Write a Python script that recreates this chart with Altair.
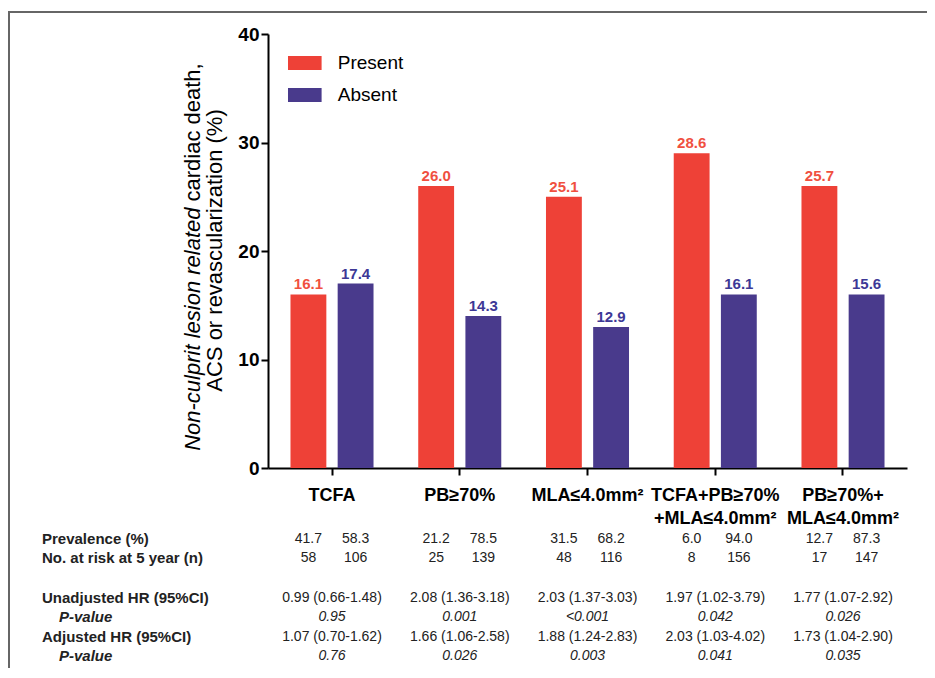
import altair as alt
import pandas as pd

FONT = "Liberation Sans"

categories = ["TCFA", "PB≥70%", "MLA≤4.0mm²", "TCFA+PB≥70%\n+MLA≤4.0mm²", "PB≥70%+\nMLA≤4.0mm²"]
groups = ["Present", "Absent"]

# bar heights as drawn (the printed labels are given separately)
bar_present = [16, 26, 25, 29, 26]
bar_absent = [17, 14, 13, 16, 16]
label_present = ["16.1", "26.0", "25.1", "28.6", "25.7"]
label_absent = ["17.4", "14.3", "12.9", "16.1", "15.6"]

prev_present = ["41.7", "21.2", "31.5", "6.0", "12.7"]
prev_absent = ["58.3", "78.5", "68.2", "94.0", "87.3"]
risk_present = ["58", "25", "48", "8", "17"]
risk_absent = ["106", "139", "116", "156", "147"]

unadj_hr = ["0.99 (0.66-1.48)", "2.08 (1.36-3.18)", "2.03 (1.37-3.03)", "1.97 (1.02-3.79)", "1.77 (1.07-2.92)"]
unadj_p = ["0.95", "0.001", "<0.001", "0.042", "0.026"]
adj_hr = ["1.07 (0.70-1.62)", "1.66 (1.06-2.58)", "1.88 (1.24-2.83)", "2.03 (1.03-4.02)", "1.73 (1.04-2.90)"]
adj_p = ["0.76", "0.026", "0.003", "0.041", "0.035"]

row_labels = ["Prevalence (%)", "No. at risk at 5 year (n)", "Unadjusted HR (95%CI)",
              "P-value", "Adjusted HR (95%CI)", "P-value"]

y_title_italic = "Non-culprit lesion related"
y_title_rest = "cardiac death,"
y_title_line2 = "ACS or revascularization (%)"

RED = "#EE4137"
BLUE = "#493A8C"
RED_TXT = "#F0503F"
BLUE_TXT = "#3D3896"

rows = []
for i, c in enumerate(categories):
    rows.append(dict(cat=c, grp="Present", h=bar_present[i], lab=label_present[i],
                     prev=prev_present[i], risk=risk_present[i]))
    rows.append(dict(cat=c, grp="Absent", h=bar_absent[i], lab=label_absent[i],
                     prev=prev_absent[i], risk=risk_absent[i]))
df = pd.DataFrame(rows)

hr = pd.DataFrame(dict(cat=categories, unadj=unadj_hr, up=unadj_p, adj=adj_hr, ap=adj_p))

W, H = 639, 434

xenc = alt.X("cat:N", sort=categories,
             scale=alt.Scale(paddingInner=0.35, paddingOuter=0.176),
             axis=alt.Axis(title=None, labelExpr="split(datum.label, '\\n')",
                           labelFont=FONT, labelFontSize=18, labelFontWeight="bold",
                           labelColor="black", labelAngle=0, labelBaseline="top",
                           labelLineHeight=23, labelPadding=11, tickSize=7, tickWidth=2,
                           tickColor="black", domainColor="black", domainWidth=2,
                           labelLimit=300))
xoff = alt.XOffset("grp:N", sort=groups, scale=alt.Scale(paddingInner=0.24, paddingOuter=0))
yenc = alt.Y("h:Q", scale=alt.Scale(domain=[0, 40]),
             axis=alt.Axis(title=None, values=[0, 10, 20, 30, 40], grid=False,
                           labelFont=FONT, labelFontSize=19, labelFontWeight="bold",
                           labelColor="black", tickSize=7, tickWidth=2, tickColor="black",
                           domainColor="black", domainWidth=2, labelPadding=2))

base = alt.Chart(df)

bars = base.mark_bar().encode(
    x=xenc, xOffset=xoff, y=yenc,
    color=alt.Color("grp:N", sort=groups,
                    scale=alt.Scale(domain=groups, range=[RED, BLUE]),
                    legend=alt.Legend(title=None, orient="none", legendX=22.8, legendY=15,
                                      symbolType="M-1.2,-0.5H1.2V0.5H-1.2Z", symbolSize=784,
                                      symbolStrokeWidth=0, symbolOpacity=1,
                                      labelFont=FONT, labelFontSize=19, labelColor="black",
                                      labelOffset=19, rowPadding=8, padding=0)),
)

bar_labels = base.mark_text(font=FONT, fontSize=15, fontWeight="bold", baseline="alphabetic",
                            dy=-5).encode(
    x=alt.X("cat:N", sort=categories), xOffset=alt.XOffset("grp:N", sort=groups), y="h:Q",
    text="lab:N",
    color=alt.condition(alt.datum.grp == "Present", alt.value(RED_TXT), alt.value(BLUE_TXT)),
)

ROW_Y = [505, 524, 564, 583, 603, 622]

prev_txt = base.mark_text(font=FONT, fontSize=14, color="#222", baseline="middle").encode(
    x=alt.X("cat:N", sort=categories), xOffset=alt.XOffset("grp:N", sort=groups),
    y=alt.value(ROW_Y[0]), text="prev:N")
risk_txt = base.mark_text(font=FONT, fontSize=14, color="#222", baseline="middle").encode(
    x=alt.X("cat:N", sort=categories), xOffset=alt.XOffset("grp:N", sort=groups),
    y=alt.value(ROW_Y[1]), text="risk:N")

hb = alt.Chart(hr)
unadj_txt = hb.mark_text(font=FONT, fontSize=14, color="#222", baseline="middle").encode(
    x=alt.X("cat:N", sort=categories), y=alt.value(ROW_Y[2]), text="unadj:N")
up_txt = hb.mark_text(font=FONT, fontSize=14, fontStyle="italic", color="#222",
                      baseline="middle").encode(
    x=alt.X("cat:N", sort=categories), y=alt.value(ROW_Y[3]), text="up:N")
adj_txt = hb.mark_text(font=FONT, fontSize=14, color="#222", baseline="middle").encode(
    x=alt.X("cat:N", sort=categories), y=alt.value(ROW_Y[4]), text="adj:N")
ap_txt = hb.mark_text(font=FONT, fontSize=14, fontStyle="italic", color="#222",
                      baseline="middle").encode(
    x=alt.X("cat:N", sort=categories), y=alt.value(ROW_Y[5]), text="ap:N")

row_layers = []
for i, lab in enumerate(row_labels):
    italic = lab == "P-value"
    row_layers.append(
        alt.Chart(pd.DataFrame({"t": [lab]})).mark_text(
            font=FONT, fontSize=15, fontWeight="bold",
            fontStyle="italic" if italic else "normal",
            align="left", baseline="middle", color="#222").encode(
            x=alt.value(-209 if italic else -226), y=alt.value(ROW_Y[i]), text="t:N"))

# y-axis title (mixed italic / regular)
yt1a = alt.Chart(pd.DataFrame({"t": [y_title_italic]})).mark_text(
    font=FONT, fontSize=22, fontStyle="italic", angle=270, align="right",
    baseline="middle", color="black").encode(x=alt.value(-75), y=alt.value(173.5), text="t:N")
yt1b = alt.Chart(pd.DataFrame({"t": [y_title_rest]})).mark_text(
    font=FONT, fontSize=22, angle=270, align="left",
    baseline="middle", color="black").encode(x=alt.value(-75), y=alt.value(167.5), text="t:N")
yt2 = alt.Chart(pd.DataFrame({"t": [y_title_line2]})).mark_text(
    font=FONT, fontSize=22, angle=270, align="center",
    baseline="middle", color="black").encode(x=alt.value(-53), y=alt.value(216.5), text="t:N")

frame_left = alt.Chart(pd.DataFrame({"a": [0]})).mark_rule(color="#666", strokeWidth=2).encode(
    x=alt.value(-259), y=alt.value(-22), y2=alt.value(634))
frame_top = alt.Chart(pd.DataFrame({"a": [0]})).mark_rule(color="#666", strokeWidth=2).encode(
    x=alt.value(-260), x2=alt.value(659), y=alt.value(-22))

chart = alt.layer(
    frame_left, frame_top, bars, bar_labels, prev_txt, risk_txt,
    unadj_txt, up_txt, adj_txt, ap_txt, *row_layers, yt1a, yt1b, yt2
).properties(
    width=W, height=H,
    autosize=alt.AutoSizeParams(type="none"),
    padding={"left": 260, "top": 26, "right": 20, "bottom": 200},
    background="white",
).configure_view(stroke=None)

chart.save("out.html", embed_options={"renderer": "svg", "actions": False})
